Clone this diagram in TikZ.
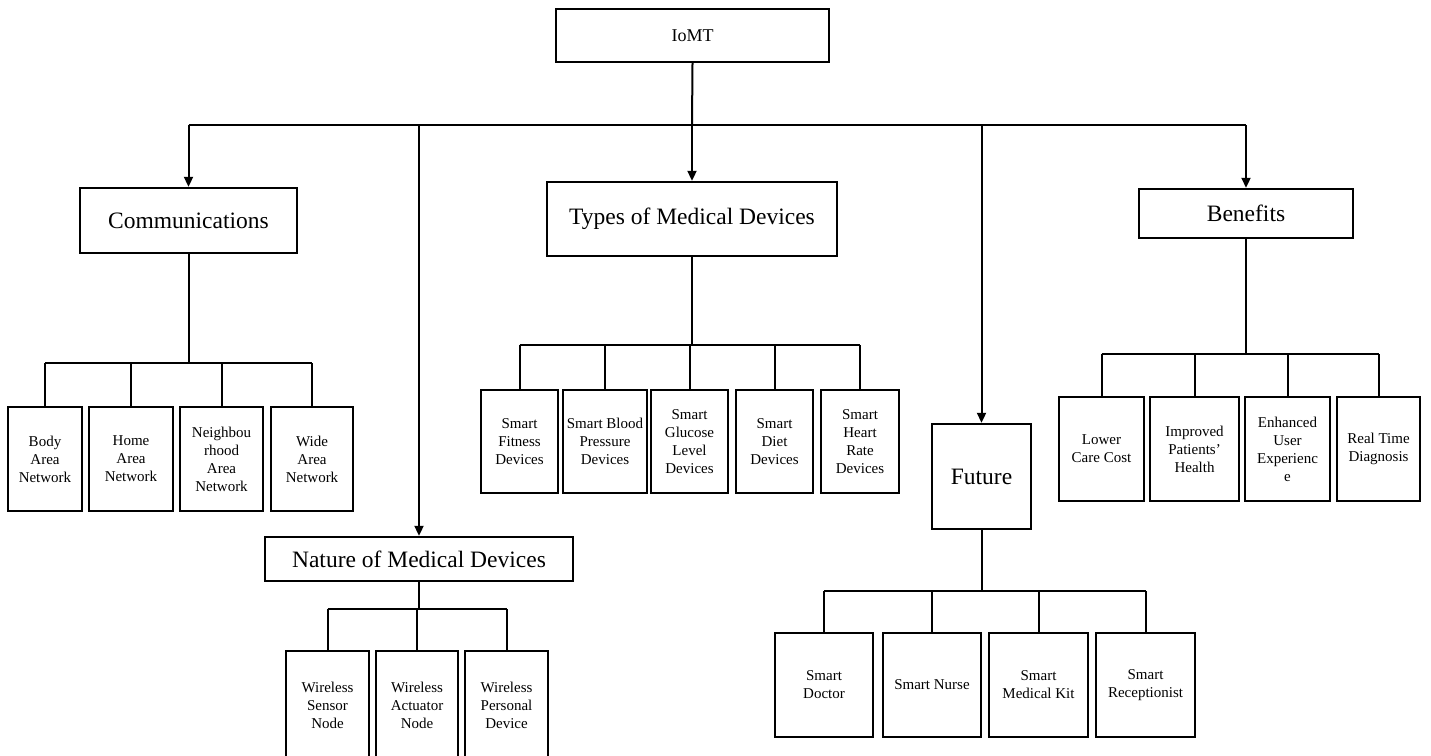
\documentclass[tikz,border=0pt]{standalone}
\usepackage{fontspec}
\setmainfont{Liberation Serif}
\usetikzlibrary{arrows.meta}

\begin{document}
\begin{tikzpicture}[x=1pt,y=-1pt,
    box/.style={draw, line width=2.4pt, inner sep=0pt, align=center},
    sz/.style 2 args={minimum width=#1pt, minimum height=#2pt},
    cat/.style={box, font=\fontsize{23.5}{28}\selectfont},
    leaf/.style={box, font=\fontsize{15}{18}\selectfont},
    link/.style={line width=2pt},
    arr/.style={link, -{Triangle[width=9pt,length=10pt]}}]
\useasboundingbox (0,0) rectangle (1431,755);

\node[box, sz={273}{53}, font=\fontsize{18}{22}\selectfont] (iomt) at (692.5,35.5) {IoMT};

\node[cat, sz={217}{65}]  (comm)   at (188.5,220.5) {Communications};
\node[cat, sz={290}{74}]  (types)  at (692,219)     {Types of Medical Devices};
\node[cat, sz={214}{49}]  (ben)    at (1246,213.5)  {Benefits};
\node[cat, sz={308}{44}]  (nature) at (419,559)     {Nature of Medical Devices};
\node[cat, sz={99}{105}]  (future) at (981.5,476.5) {Future};

% communications
\node[leaf, sz={74}{104}] (c1) at (45,459)    {Body\\Area\\Network};
\node[leaf, sz={84}{104}] (c2) at (131,459)   {Home\\Area\\Network};
\node[leaf, sz={83}{104}] (c3) at (221.5,459) {Neighbou\\rhood\\Area\\Network};
\node[leaf, sz={82}{104}] (c4) at (312,459)   {Wide\\Area\\Network};

% types of devices
\node[leaf, sz={77}{103}] (t1) at (519.5,441.5) {Smart\\Fitness\\Devices};
\node[leaf, sz={84}{103}] (t2) at (605,441.5)   {Smart Blood\\Pressure\\Devices};
\node[leaf, sz={77}{103}] (t3) at (689.5,441.5) {Smart\\Glucose\\Level\\Devices};
\node[leaf, sz={77}{103}] (t4) at (774.5,441.5) {Smart\\Diet\\Devices};
\node[leaf, sz={78}{103}] (t5) at (860,441.5)   {Smart\\Heart\\Rate\\Devices};

% benefits
\node[leaf, sz={85}{104}] (b1) at (1101.5,449) {Lower\\Care Cost};
\node[leaf, sz={89}{104}] (b2) at (1194.5,449) {Improved\\Patients’\\Health};
\node[leaf, sz={85}{104}] (b3) at (1287.5,449) {Enhanced\\User\\Experienc\\e};
\node[leaf, sz={83}{104}] (b4) at (1378.5,449) {Real Time\\Diagnosis};

% nature of devices
\node[leaf, sz={83}{108}] (n1) at (327.5,705) {Wireless\\Sensor\\Node};
\node[leaf, sz={82}{108}] (n2) at (417,705)   {Wireless\\Actuator\\Node};
\node[leaf, sz={83}{108}] (n3) at (506.5,705) {Wireless\\Personal\\Device};

% future
\node[leaf, sz={98}{104}] (f1) at (824,685)    {Smart\\Doctor};
\node[leaf, sz={98}{104}] (f2) at (932,685)    {Smart Nurse};
\node[leaf, sz={99}{104}] (f3) at (1038.5,685) {Smart\\Medical Kit};
\node[leaf, sz={99}{104}] (f4) at (1145.5,685) {Smart\\Receptionist};

\coordinate (bus) at (692,125);
\coordinate (commbus) at (0,363);
\coordinate (typesbus) at (0,345);
\coordinate (benbus) at (0,354);
\coordinate (naturebus) at (0,609);
\coordinate (futurebus) at (0,591);

\draw[link] (iomt.south) -- (bus);
\draw[link] (bus -| comm.north) -- (bus -| ben.north);
\foreach \n in {comm,nature,types,future,ben}
    \draw[arr] (bus -| \n.north) -- (\n.north);

\draw[link] (comm.south) -- (comm.south |- commbus);
\draw[link] (c1.north |- commbus) -- (c4.north |- commbus);
\foreach \n in {c1,c2,c3,c4}
    \draw[link] (\n.north |- commbus) -- (\n.north);

\draw[link] (types.south) -- (types.south |- typesbus);
\draw[link] (t1.north |- typesbus) -- (t5.north |- typesbus);
\foreach \n in {t1,t2,t3,t4,t5}
    \draw[link] (\n.north |- typesbus) -- (\n.north);

\draw[link] (ben.south) -- (ben.south |- benbus);
\draw[link] (b1.north |- benbus) -- (b4.north |- benbus);
\foreach \n in {b1,b2,b3,b4}
    \draw[link] (\n.north |- benbus) -- (\n.north);

\draw[link] (nature.south) -- (nature.south |- naturebus);
\draw[link] (n1.north |- naturebus) -- (n3.north |- naturebus);
\foreach \n in {n1,n2,n3}
    \draw[link] (\n.north |- naturebus) -- (\n.north);

\draw[link] (future.south) -- (future.south |- futurebus);
\draw[link] (f1.north |- futurebus) -- (f4.north |- futurebus);
\foreach \n in {f1,f2,f3,f4}
    \draw[link] (\n.north |- futurebus) -- (\n.north);
\end{tikzpicture}
\end{document}
